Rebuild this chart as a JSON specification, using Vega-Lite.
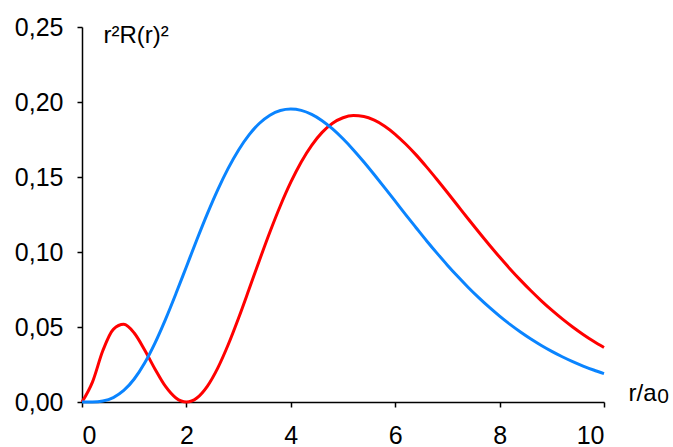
{
  "$schema": "https://vega.github.io/schema/vega-lite/v6.json",
  "width": 522,
  "height": 375,
  "autosize": {"type": "none"},
  "padding": {"left": 82, "top": 27, "right": 69, "bottom": 45},
  "background": "white",
  "config": {
    "view": {"stroke": null},
    "font": "Liberation Sans",
    "axis": {
      "grid": false,
      "domainColor": "black",
      "domainWidth": 1.5,
      "tickColor": "black",
      "tickWidth": 1.5,
      "tickSize": 5,
      "labelFont": "Liberation Sans",
      "labelFontSize": 25,
      "labelColor": "black",
      "titleFont": "Liberation Sans",
      "titleFontSize": 24,
      "titleFontWeight": "normal",
      "titleColor": "black"
    }
  },
  "layer": [
    {
      "data": {
        "values": [
          {"r":0,"p":0,"s":"2s"},{"r":0.2,"p":0.013264,"s":"2s"},{"r":0.4,"p":0.03432,"s":"2s"},{"r":0.6,"p":0.048405,"s":"2s"},{"r":0.8,"p":0.051763,"s":"2s"},{"r":1.0,"p":0.045985,"s":"2s"},{"r":1.2,"p":0.034697,"s":"2s"},{"r":1.4,"p":0.021875,"s":"2s"},{"r":1.6,"p":0.010337,"s":"2s"},{"r":1.8,"p":0.002678,"s":"2s"},{"r":2.0,"p":0,"s":"2s"},{"r":2.2,"p":0.002681,"s":"2s"},{"r":2.4,"p":0.010451,"s":"2s"},{"r":2.6,"p":0.022594,"s":"2s"},{"r":2.8,"p":0.03814,"s":"2s"},{"r":3.0,"p":0.05601,"s":"2s"},{"r":3.2,"p":0.075133,"s":"2s"},{"r":3.4,"p":0.094519,"s":"2s"},{"r":3.6,"p":0.113318,"s":"2s"},{"r":3.8,"p":0.13083,"s":"2s"},{"r":4.0,"p":0.146528,"s":"2s"},{"r":4.2,"p":0.16004,"s":"2s"},{"r":4.4,"p":0.171131,"s":"2s"},{"r":4.6,"p":0.179732,"s":"2s"},{"r":4.8,"p":0.185827,"s":"2s"},{"r":5.0,"p":0.189506,"s":"2s"},{"r":5.2,"p":0.19095,"s":"2s"},{"r":5.4,"p":0.190329,"s":"2s"},{"r":5.6,"p":0.18787,"s":"2s"},{"r":5.8,"p":0.183861,"s":"2s"},{"r":6.0,"p":0.178488,"s":"2s"},{"r":6.2,"p":0.171979,"s":"2s"},{"r":6.4,"p":0.164743,"s":"2s"},{"r":6.6,"p":0.156743,"s":"2s"},{"r":6.8,"p":0.148326,"s":"2s"},{"r":7.0,"p":0.139632,"s":"2s"},{"r":7.2,"p":0.130817,"s":"2s"},{"r":7.4,"p":0.122006,"s":"2s"},{"r":7.6,"p":0.113312,"s":"2s"},{"r":7.8,"p":0.104822,"s":"2s"},{"r":8.0,"p":0.096612,"s":"2s"},{"r":8.2,"p":0.088736,"s":"2s"},{"r":8.4,"p":0.081238,"s":"2s"},{"r":8.6,"p":0.074143,"s":"2s"},{"r":8.8,"p":0.067467,"s":"2s"},{"r":9.0,"p":0.061227,"s":"2s"},{"r":9.2,"p":0.055417,"s":"2s"},{"r":9.4,"p":0.050033,"s":"2s"},{"r":9.6,"p":0.045066,"s":"2s"},{"r":9.8,"p":0.040501,"s":"2s"},{"r":10.0,"p":0.03632,"s":"2s"},
          {"r":0,"p":0,"s":"2p"},{"r":0.2,"p":0.0000546,"s":"2p"},{"r":0.4,"p":0.000715,"s":"2p"},{"r":0.6,"p":0.002964,"s":"2p"},{"r":0.8,"p":0.007669,"s":"2p"},{"r":1.0,"p":0.015328,"s":"2p"},{"r":1.2,"p":0.026023,"s":"2p"},{"r":1.4,"p":0.039472,"s":"2p"},{"r":1.6,"p":0.055131,"s":"2p"},{"r":1.8,"p":0.072302,"s":"2p"},{"r":2.0,"p":0.090223,"s":"2p"},{"r":2.2,"p":0.108151,"s":"2p"},{"r":2.4,"p":0.125409,"s":"2p"},{"r":2.6,"p":0.141423,"s":"2p"},{"r":2.8,"p":0.155738,"s":"2p"},{"r":3.0,"p":0.168031,"s":"2p"},{"r":3.2,"p":0.178092,"s":"2p"},{"r":3.4,"p":0.185822,"s":"2p"},{"r":3.6,"p":0.191225,"s":"2p"},{"r":3.8,"p":0.194361,"s":"2p"},{"r":4.0,"p":0.195371,"s":"2p"},{"r":4.2,"p":0.194429,"s":"2p"},{"r":4.4,"p":0.191731,"s":"2p"},{"r":4.6,"p":0.187531,"s":"2p"},{"r":4.8,"p":0.182034,"s":"2p"},{"r":5.0,"p":0.175469,"s":"2p"},{"r":5.2,"p":0.168076,"s":"2p"},{"r":5.4,"p":0.160035,"s":"2p"},{"r":5.6,"p":0.151533,"s":"2p"},{"r":5.8,"p":0.142776,"s":"2p"},{"r":6.0,"p":0.133866,"s":"2p"},{"r":6.2,"p":0.124922,"s":"2p"},{"r":6.4,"p":0.116182,"s":"2p"},{"r":6.6,"p":0.107524,"s":"2p"},{"r":6.8,"p":0.099245,"s":"2p"},{"r":7.0,"p":0.091238,"s":"2p"},{"r":7.2,"p":0.083645,"s":"2p"},{"r":7.4,"p":0.076372,"s":"2p"},{"r":7.6,"p":0.069574,"s":"2p"},{"r":7.8,"p":0.063192,"s":"2p"},{"r":8.0,"p":0.057252,"s":"2p"},{"r":8.2,"p":0.05174,"s":"2p"},{"r":8.4,"p":0.046648,"s":"2p"},{"r":8.6,"p":0.041962,"s":"2p"},{"r":8.8,"p":0.037663,"s":"2p"},{"r":9.0,"p":0.033737,"s":"2p"},{"r":9.2,"p":0.03016,"s":"2p"},{"r":9.4,"p":0.026912,"s":"2p"},{"r":9.6,"p":0.023969,"s":"2p"},{"r":9.8,"p":0.021311,"s":"2p"},{"r":10.0,"p":0.018917,"s":"2p"}
        ]
      },
      "mark": {"type": "line", "strokeWidth": 3, "interpolate": "monotone"},
      "encoding": {
        "x": {
          "field": "r",
          "type": "quantitative",
          "scale": {"domain": [0, 10], "nice": false, "zero": true},
          "axis": {
            "values": [0, 2, 4, 6, 8, 10],
            "labelPadding": 16,
            "title": "r/a",
            "titleAlign": "left",
            "titleBaseline": "alphabetic",
            "titleAnchor": null,
            "titleX": 546,
            "titleY": -2
          }
        },
        "y": {
          "field": "p",
          "type": "quantitative",
          "scale": {"domain": [0, 0.25], "nice": false},
          "axis": {
            "values": [0, 0.05, 0.1, 0.15, 0.2, 0.25],
            "labelExpr": "replace(format(datum.value, '.2f'), '.', ',')",
            "labelPadding": 14,
            "title": "r²R(r)²",
            "titleAngle": 0,
            "titleAlign": "left",
            "titleBaseline": "alphabetic",
            "titleAnchor": null,
            "titleX": 21,
            "titleY": 15
          }
        },
        "color": {
          "field": "s",
          "type": "nominal",
          "scale": {"domain": ["2s", "2p"], "range": ["#FF0000", "#0A84FF"]},
          "legend": null
        }
      }
    },
    {
      "data": {"values": [{}]},
      "mark": {"type": "text", "text": "0", "font": "Liberation Sans", "fontSize": 21, "align": "left", "baseline": "alphabetic", "color": "black"},
      "encoding": {
        "x": {"datum": 11.02, "type": "quantitative"},
        "y": {"datum": -0.0007, "type": "quantitative"}
      }
    }
  ]
}
